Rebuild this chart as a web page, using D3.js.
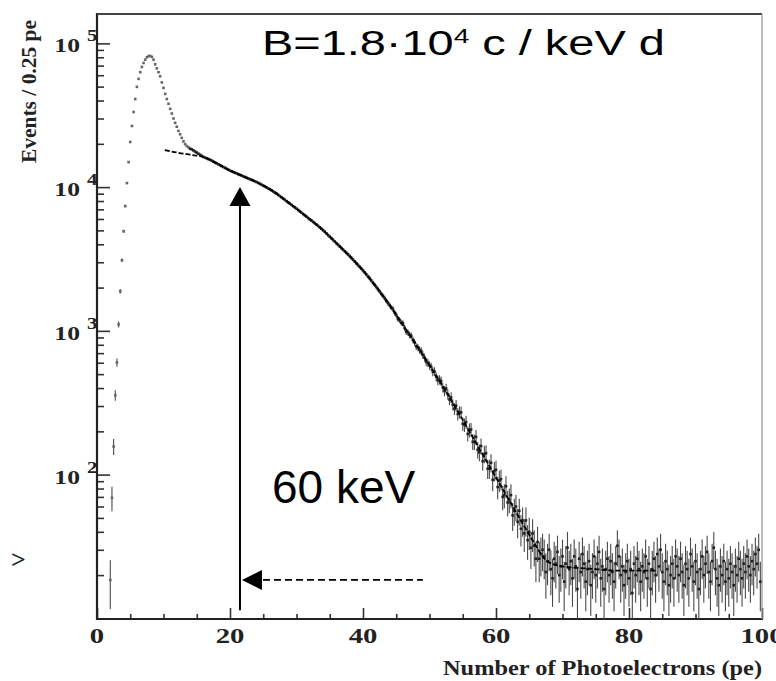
<!DOCTYPE html>
<html>
<head>
<meta charset="utf-8">
<script src="https://cdn.jsdelivr.net/npm/d3@7"></script>
<style>
  html, body { margin: 0; padding: 0; background: #fff; }
  svg { display: block; }
</style>
</head>
<body>
<svg id="chart" width="776" height="681"></svg>
<script>
// Photoelectron spectrum, 0.25 pe bins starting at 2 pe
const peStart = 2.0;
const binWidth = 0.25;
const events = [
  // 2.00 - 8.00 : rising edge and peak
  18.5, 69, 157, 356, 603, 1110, 1885, 3100, 4930, 7380, 10660, 14930, 20600,
  26600, 33300, 41000, 49800, 56600, 63000, 68500, 73000, 77000, 80000, 81500, 81800,
  // 8.25 - 14.00 : falling side of the peak
  80500, 77000, 71500, 67000, 63000, 59000, 53500, 49000, 44500, 41000, 38000, 35000,
  32500, 30000, 28000, 26300, 24600, 23300, 22000, 20800, 19900, 19300, 18900, 18500,
  // 14.25 - 50.00 : smooth continuum
  18300, 18000, 17680, 17380, 17080, 16790, 16500, 16220,
  16030, 15850, 15670, 15490, 15280, 15050, 14830, 14620,
  14420, 14210, 14000, 13800, 13610, 13410, 13210, 13030,
  12880, 12740, 12590, 12450, 12300, 12160, 12020, 11890,
  11750, 11610, 11480, 11350, 11220, 11090, 10960, 10840,
  10690, 10530, 10380, 10230, 10090, 9940, 9790, 9660,
  9500, 9330, 9170, 9020, 8830, 8660, 8490, 8320,
  8150, 7990, 7830, 7670, 7520, 7370, 7230, 7080,
  6930, 6790, 6640, 6500, 6370, 6230, 6100, 5970,
  5850, 5730, 5610, 5500, 5370, 5250, 5130, 5010,
  4890, 4760, 4630, 4520, 4410, 4290, 4180, 4070,
  3970, 3870, 3770, 3670, 3580, 3490, 3400, 3310,
  3220, 3130, 3040, 2950, 2870, 2790, 2710, 2630,
  2550, 2470, 2390, 2320, 2240, 2160, 2090, 2020,
  1950, 1880, 1810, 1750, 1690, 1620, 1560, 1510,
  1450, 1420, 1340, 1290, 1210, 1190, 1140, 1130,
  1050, 985, 975, 938, 925, 866, 832, 780,
  767, 737, 725, 679, 652, 610, 600, 575,
  // 50.25 - 67.00 : steep fall-off
  563, 519, 522, 481, 453, 457, 447, 404,
  382, 397, 362, 333, 344, 307, 287, 302,
  264, 271, 271, 226, 222, 232, 192, 204,
  206, 169, 169, 183, 149, 143, 158, 124,
  139, 141, 110, 110, 121, 92, 106, 108,
  82, 91, 93, 70, 72, 83, 64, 67,
  72, 52, 56, 60, 47, 56, 42, 48,
  39, 48, 35, 40, 31, 39, 32, 26,
  34, 26, 28, 30,
  // 67.25 - 99.75 : flat tail
  27, 21, 25,
  30, 22, 19, 26,  24, 29, 20, 23,  27, 18, 24, 31,  22, 25, 19, 27,
  23, 16, 26, 21,  28, 24, 18, 22,  25, 17, 21, 27,  20, 24, 29, 19,
  23, 16, 22, 26,  20, 25, 21, 18,  24, 32, 27, 20,  23, 17, 21, 25,
  19, 22, 15, 24,  20, 26, 22, 18,  23, 21, 27, 19,  24, 16, 22, 26,
  20, 28, 23, 30,  21, 18, 25, 22,  17, 20, 24, 19,  27, 23, 20, 26,
  21, 17, 24, 22,  19, 28, 23, 18,  25, 21, 16, 22,  27, 20, 24, 29,
  21, 18, 25, 31,  22, 19, 17, 23,  20, 25, 18, 22,  19, 24, 21, 17,
  23, 20, 26, 22,  19, 24, 21, 27,  23, 20, 25, 22,  28, 24, 30, 18
];
// Error bars: counting error, widened by the rescaling to events / 0.25 pe
const errorScale = 1.6;

// Background fit curve
const fitPe = [10.2, 12, 14, 16, 18, 20, 22, 24, 26, 28, 30, 32, 34, 36, 38, 40,
  42, 44, 46, 48, 50, 52, 54, 56, 58, 60, 62, 64, 66, 67, 68, 70, 72, 75, 78, 81, 84];
const fitEvents = [18100, 17400, 16800, 16200, 14620, 13030, 11890, 10840, 9660, 8320,
  7080, 5970, 5010, 4070, 3310, 2630, 2020, 1510, 1100, 800, 575, 412, 288, 200, 138,
  95.5, 66.1, 45.7, 32, 27, 24.5, 23, 22.5, 22, 21.5, 21.5, 21.5];

// Axis ticks
const xMajorTicks = [0, 20, 40, 60, 80, 100];
const xMinorTicks = [5, 10, 15, 25, 30, 35, 45, 50, 55, 65, 70, 75, 85, 90, 95];
const yDecades = [100, 1000, 10000, 100000];
const yExponents = ["2", "3", "4", "5"];

// Annotations
const thresholdPe = 21.5;      // 60 keV marker position
const thresholdLow = 11.4;
const thresholdHigh = 10000;
const floorLevel = 18.5;       // level pointed at by the dashed arrow
const floorEndPe = 49;
const rateText = ["B=1.8\u00b710", "4", " c / keV d"];
const energyText = "60 keV";
const xTitle = "Number of Photoelectrons (pe)";
const yTitle = "Events / 0.25 pe";

const svg = d3.select("#chart");
const x = d3.scaleLinear().domain([0, 100]).range([97, 762]);
const y = d3.scaleLog().domain([9.9, 1.6e5]).range([619, 14]);

const serif = "'Liberation Serif', 'Times New Roman', serif";
const sans = "'Liberation Sans', Arial, sans-serif";

svg.append("defs").append("clipPath").attr("id", "plot")
  .append("rect").attr("x", 97).attr("y", 14).attr("width", 665).attr("height", 605);

// Minor y ticks: 2..9 in every decade
const yMinor = [];
[10, 100, 1000, 10000].forEach(d => {
  [2, 3, 4, 5, 6, 7, 8, 9].forEach(k => yMinor.push(d * k));
});

function cleanAxis(g) {
  g.select(".domain").remove();
  g.selectAll(".tick line").attr("stroke", "#333").attr("stroke-width", 1.6);
  g.selectAll(".tick text").remove();
}

svg.append("g").attr("transform", "translate(97,0)")
  .call(d3.axisLeft(y).tickValues(yMinor).tickSize(-7).tickFormat(""))
  .call(cleanAxis);
svg.append("g").attr("transform", "translate(97,0)")
  .call(d3.axisLeft(y).tickValues(yDecades).tickSize(-13).tickFormat(""))
  .call(cleanAxis);
svg.append("g").attr("transform", "translate(0,619)")
  .call(d3.axisBottom(x).tickValues(xMinorTicks).tickSize(-5).tickFormat(""))
  .call(cleanAxis);
svg.append("g").attr("transform", "translate(0,619)")
  .call(d3.axisBottom(x).tickValues(xMajorTicks).tickSize(-11).tickFormat(""))
  .call(cleanAxis);

// Frame
svg.append("line").attr("x1", 97).attr("x2", 97).attr("y1", 13).attr("y2", 620)
  .attr("stroke", "#222").attr("stroke-width", 2.2);
svg.append("line").attr("x1", 96).attr("x2", 763).attr("y1", 619).attr("y2", 619)
  .attr("stroke", "#222").attr("stroke-width", 2.2);
svg.append("line").attr("x1", 97).attr("x2", 762).attr("y1", 14).attr("y2", 14)
  .attr("stroke", "#444").attr("stroke-width", 2);
svg.append("line").attr("x1", 762).attr("x2", 762).attr("y1", 14).attr("y2", 619)
  .attr("stroke", "#999").attr("stroke-width", 1.3);

// Y tick labels 10^n
yDecades.forEach((d, i) => {
  svg.append("text")
    .attr("transform", `translate(80,${y(d) + 9}) scale(1.35,1)`)
    .attr("text-anchor", "end")
    .attr("font-family", serif).attr("font-weight", "bold").attr("font-size", 19)
    .attr("fill", "#222").text("10");
  svg.append("text")
    .attr("transform", `translate(87,${y(d) - 2}) scale(1.3,1)`)
    .attr("font-family", serif).attr("font-weight", "bold").attr("font-size", 16)
    .attr("fill", "#222").text(yExponents[i]);
});

// X tick labels
xMajorTicks.forEach(v => {
  svg.append("text")
    .attr("transform", `translate(${x(v)},643) scale(1.37,1)`)
    .attr("text-anchor", "middle")
    .attr("font-family", serif).attr("font-weight", "bold").attr("font-size", 21)
    .attr("fill", "#222").text(v);
});

// Axis titles
svg.append("text")
  .attr("x", 443).attr("y", 675)
  .attr("textLength", 319).attr("lengthAdjust", "spacingAndGlyphs")
  .attr("font-family", serif).attr("font-weight", "bold").attr("font-size", 21)
  .attr("fill", "#222").text(xTitle);
svg.append("text")
  .attr("transform", "translate(36,163) rotate(-90)")
  .attr("textLength", 143).attr("lengthAdjust", "spacingAndGlyphs")
  .attr("font-family", serif).attr("font-weight", "bold").attr("font-size", 21)
  .attr("fill", "#222").text(yTitle);

// Stray mark at the left margin
svg.append("text").attr("x", 11).attr("y", 568)
  .attr("font-family", serif).attr("font-weight", "bold").attr("font-size", 26)
  .attr("fill", "#222").text(">");

// Data
const data = events.map((v, i) => ({ pe: peStart + i * binWidth, v }));
const plot = svg.append("g").attr("clip-path", "url(#plot)");

plot.append("g").selectAll("line").data(data).join("line")
  .attr("x1", d => x(d.pe)).attr("x2", d => x(d.pe))
  .attr("y1", d => y(d.v + errorScale * Math.sqrt(d.v)))
  .attr("y2", d => y(Math.max(d.v - errorScale * Math.sqrt(d.v), 1)))
  .attr("stroke", "#4a4a4a").attr("stroke-width", 1.1);

plot.append("g").selectAll("rect").data(data).join("rect")
  .attr("x", d => x(d.pe) - 1.3).attr("y", d => y(d.v) - 1.3)
  .attr("width", 2.6).attr("height", 2.6)
  .attr("fill", d => d.pe < 14 ? "#666" : "#222");

// Fit curve
const fit = fitPe.map((p, i) => [p, fitEvents[i]]);
plot.append("path").datum(fit)
  .attr("d", d3.line().x(d => x(d[0])).y(d => y(d[1])).curve(d3.curveMonotoneX))
  .attr("fill", "none").attr("stroke", "#000").attr("stroke-width", 1.8)
  .attr("stroke-dasharray", "5,2");

// 60 keV threshold arrow
const ax = x(thresholdPe);
const tipY = y(thresholdHigh);
svg.append("line").attr("x1", ax).attr("x2", ax)
  .attr("y1", y(thresholdLow)).attr("y2", tipY + 18)
  .attr("stroke", "#000").attr("stroke-width", 2);
svg.append("path")
  .attr("d", `M${ax},${tipY} L${ax - 10.5},${tipY + 19} L${ax + 10.5},${tipY + 19} Z`)
  .attr("fill", "#000");

// Dashed arrow pointing at the threshold line
const fy = y(floorLevel);
const hTip = ax + 2;
svg.append("path")
  .attr("d", `M${hTip},${fy} L${hTip + 20},${fy - 10} L${hTip + 20},${fy + 10} Z`)
  .attr("fill", "#000");
svg.append("line").attr("x1", hTip + 21).attr("x2", x(floorEndPe))
  .attr("y1", fy).attr("y2", fy)
  .attr("stroke", "#000").attr("stroke-width", 1.8).attr("stroke-dasharray", "7,4");

// Text annotations
svg.append("text").attr("x", 272).attr("y", 503)
  .attr("font-family", sans).attr("font-size", 46).attr("fill", "#000")
  .text(energyText);

const rt = svg.append("text")
  .attr("transform", "translate(262,55) scale(1.34,1)")
  .attr("font-family", sans).attr("font-size", 35).attr("fill", "#000");
rt.append("tspan").text(rateText[0]);
rt.append("tspan").attr("font-size", 21).attr("dy", -12).text(rateText[1]);
rt.append("tspan").attr("dy", 12).text(rateText[2]);
</script>
</body>
</html>
